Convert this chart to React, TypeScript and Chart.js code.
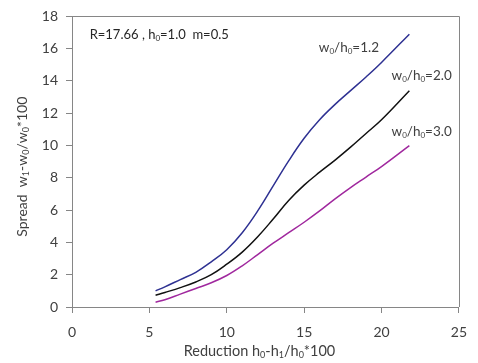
import React, { useEffect, useRef } from "react";
import { Chart, registerables } from "chart.js";

Chart.register(...registerables);

const reduction = [5.4, 6, 7, 8, 9, 10, 11, 12, 13, 14, 15, 16, 17, 18, 19, 20, 21.8];
const spreadW12 = [1.0, 1.25, 1.7, 2.15, 2.8, 3.55, 4.6, 5.95, 7.5, 9.05, 10.45, 11.6, 12.55, 13.4, 14.25, 15.15, 16.9];
const spreadW20 = [0.73, 0.9, 1.2, 1.55, 2.0, 2.65, 3.4, 4.35, 5.45, 6.6, 7.55, 8.35, 9.1, 9.9, 10.75, 11.6, 13.4];
const spreadW30 = [0.3, 0.45, 0.8, 1.15, 1.5, 1.95, 2.55, 3.25, 3.95, 4.6, 5.25, 5.95, 6.7, 7.4, 8.05, 8.7, 10.0];
const seriesColors = ["#2e3192", "#111111", "#a0289e"];
const xTicks = [0, 5, 10, 15, 20, 25];
const yTicks = [0, 2, 4, 6, 8, 10, 12, 14, 16, 18];

type Part = [string, boolean];
const FAMILY = "Lato, 'Open Sans', sans-serif";

const seriesLabels: { parts: Part[]; x: number; y: number }[] = [
  { parts: [["w", false], ["0", true], ["/h", false], ["0", true], ["=1.2", false]], x: 15.95, y: 16.05 },
  { parts: [["w", false], ["0", true], ["/h", false], ["0", true], ["=2.0", false]], x: 20.65, y: 14.34 },
  { parts: [["w", false], ["0", true], ["/h", false], ["0", true], ["=3.0", false]], x: 20.65, y: 10.86 },
];
const noteParts: Part[] = [["R=17.66 , h", false], ["0", true], ["=1.0  m=0.5", false]];
const xTitleParts: Part[] = [["Reduction h", false], ["0", true], ["-h", false], ["1", true], ["/h", false], ["0", true], ["*100", false]];
const yTitleParts: Part[] = [["Spread  w", false], ["1", true], ["-w", false], ["0", true], ["/w", false], ["0", true], ["*100", false]];

function richWidth(ctx: CanvasRenderingContext2D, parts: Part[], size: number) {
  let w = 0;
  for (const [t, sub] of parts) {
    ctx.font = `${sub ? Math.round(size * 0.62) : size}px ${FAMILY}`;
    w += ctx.measureText(t).width;
  }
  return w;
}

function drawRich(ctx: CanvasRenderingContext2D, parts: Part[], x: number, y: number, size: number, color: string) {
  let cx = x;
  ctx.fillStyle = color;
  ctx.textBaseline = "middle";
  ctx.textAlign = "left";
  for (const [t, sub] of parts) {
    ctx.font = `${sub ? Math.round(size * 0.62) : size}px ${FAMILY}`;
    ctx.fillText(t, cx, sub ? y + size * 0.28 : y);
    cx += ctx.measureText(t).width;
  }
}

const annotPlugin = {
  id: "annot",
  afterDraw(chart: any) {
    const { ctx, chartArea, scales } = chart;
    ctx.save();
    ctx.strokeStyle = "#868686";
    ctx.lineWidth = 1;
    ctx.beginPath();
    ctx.moveTo(chartArea.left, Math.round(chartArea.top) + 0.5);
    ctx.lineTo(Math.round(chartArea.right) + 0.5, Math.round(chartArea.top) + 0.5);
    ctx.lineTo(Math.round(chartArea.right) + 0.5, chartArea.bottom);
    ctx.stroke();

    for (const l of seriesLabels) {
      drawRich(ctx, l.parts, scales.x.getPixelForValue(l.x), scales.y.getPixelForValue(l.y), 13.5, "#404040");
    }
    drawRich(ctx, noteParts, scales.x.getPixelForValue(1.14), scales.y.getPixelForValue(16.84), 13, "#262626");

    const xw = richWidth(ctx, xTitleParts, 14.5);
    drawRich(ctx, xTitleParts, (chartArea.left + chartArea.right) / 2 - xw / 2 - 6, 351, 14.5, "#404040");

    const yw = richWidth(ctx, yTitleParts, 14);
    ctx.translate(22, (chartArea.top + chartArea.bottom) / 2 + 5);
    ctx.rotate(-Math.PI / 2);
    drawRich(ctx, yTitleParts, -yw / 2, 0, 14, "#404040");
    ctx.restore();
  },
};

export default function App() {
  const ref = useRef<HTMLCanvasElement>(null);
  useEffect(() => {
    if (!ref.current) return;
    const mk = (ys: number[]) => reduction.map((x, i) => ({ x, y: ys[i] }));
    const chart = new Chart(ref.current, {
      type: "line",
      data: {
        datasets: [spreadW12, spreadW20, spreadW30].map((ys, i) => ({
          label: `s${i}`,
          data: mk(ys),
          borderColor: seriesColors[i],
          borderWidth: 1.5,
          pointRadius: 0,
          fill: false,
          tension: 0.4,
        })),
      },
      options: {
        animation: false,
        responsive: true,
        maintainAspectRatio: false,
        layout: { padding: { left: 0, right: 12, top: 13, bottom: 0 } },
        plugins: { legend: { display: false }, tooltip: { enabled: false } },
        scales: {
          x: {
            type: "linear",
            min: 0,
            max: 25,
            afterBuildTicks: (s: any) => { s.ticks = xTicks.map((v) => ({ value: v })); },
            afterFit: (s: any) => { s.height = 56; },
            ticks: { color: "#404040", font: { size: 14, family: FAMILY }, padding: 11 },
            grid: { drawOnChartArea: false, tickLength: 6, color: "#868686" },
            border: { color: "#868686" },
          },
          y: {
            min: 0,
            max: 18,
            afterBuildTicks: (s: any) => { s.ticks = yTicks.map((v) => ({ value: v })); },
            afterFit: (s: any) => { s.width = 72; },
            ticks: { color: "#404040", font: { size: 14, family: FAMILY }, padding: 8 },
            grid: { drawOnChartArea: false, tickLength: 6, color: "#868686" },
            border: { color: "#868686" },
          },
        },
      },
      plugins: [annotPlugin],
    });
    return () => chart.destroy();
  }, []);
  return (
    <div style={{ position: "absolute", left: 0, top: 0, width: 478, height: 363, background: "#fff" }}>
      <canvas ref={ref} />
    </div>
  );
}
